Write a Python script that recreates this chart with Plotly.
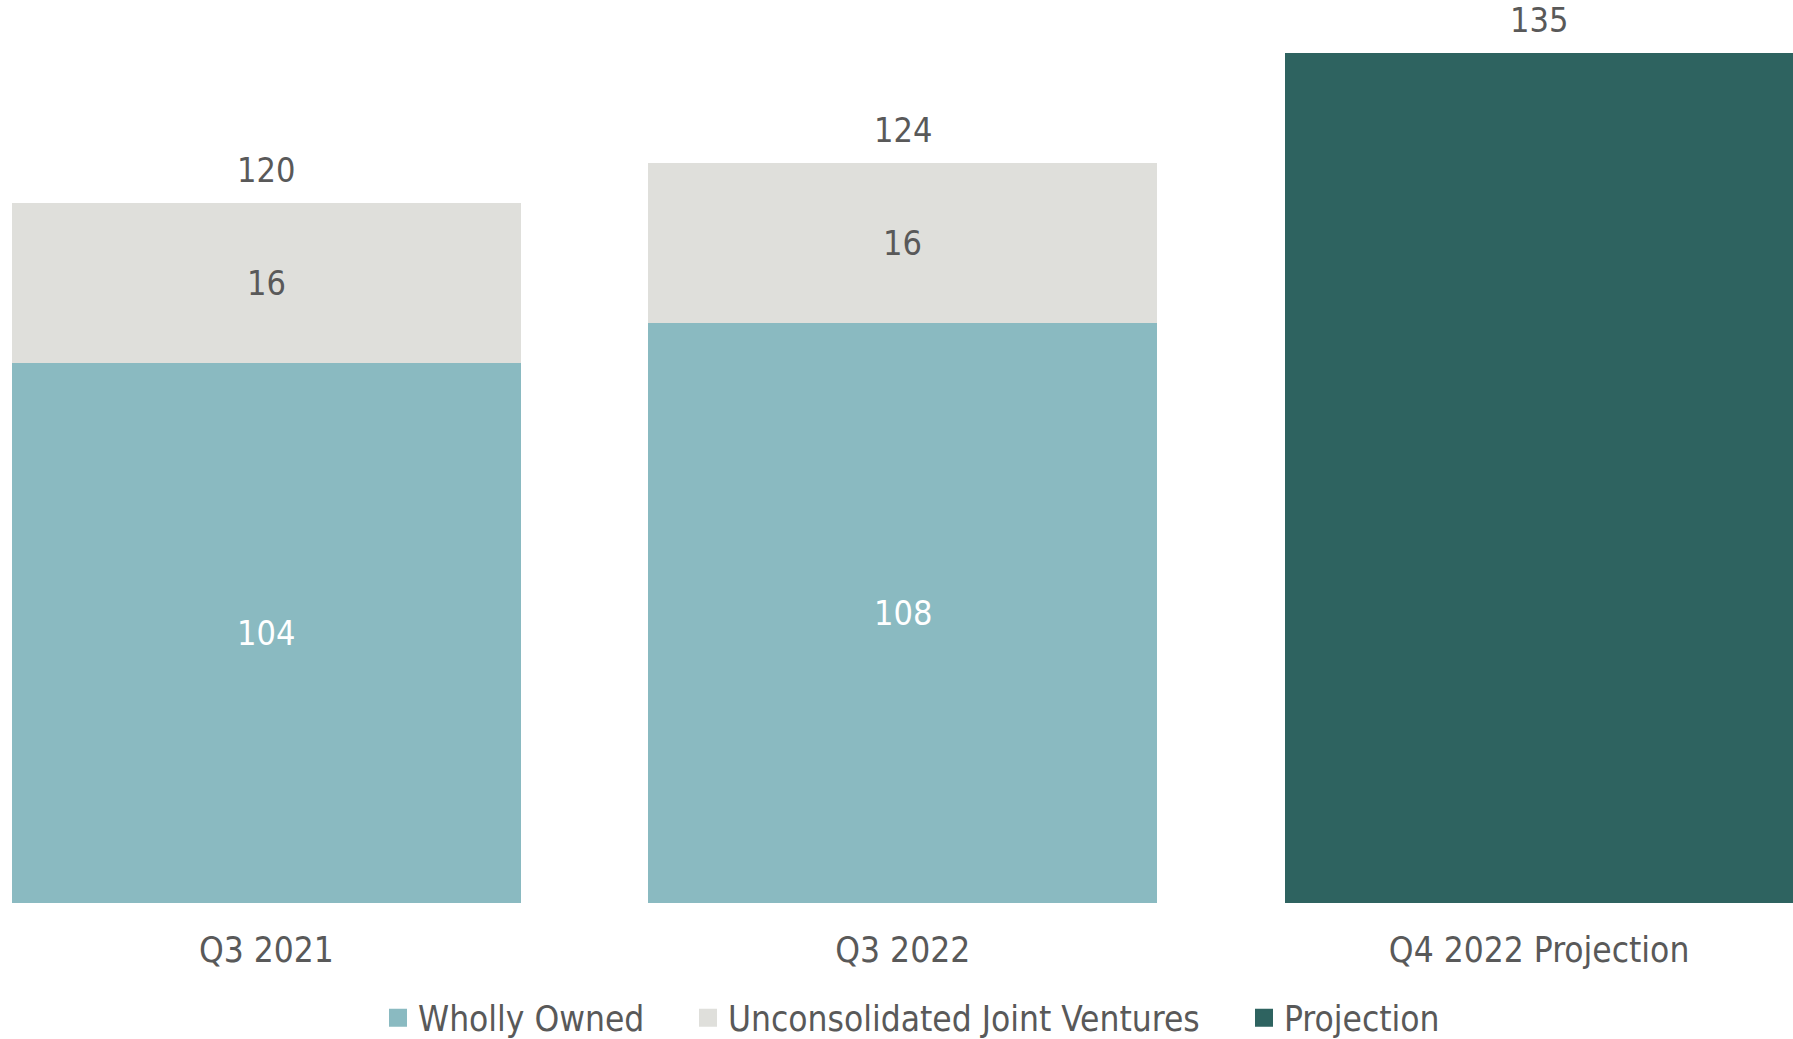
import plotly.graph_objects as go

# Portfolio counts by period
categories = ["Q3 2021", "Q3 2022", "Q4 2022 Projection"]
wholly_owned = [104, 108, None]
joint_ventures = [16, 16, None]
projection = [None, None, 135]
totals = [120, 124, 135]

series_names = ["Wholly Owned", "Unconsolidated Joint Ventures", "Projection"]

C_WHOLLY = "#8ABAC1"
C_JV = "#DFDFDB"
C_PROJ = "#2E6360"
C_TEXT = "#595959"
FONT = "DejaVu Sans Condensed, Tahoma, DejaVu Sans, sans-serif"
FS_NUM = 34
FS_TXT = 35

Y_FLOOR, Y_CEIL = 50, 140.35

fig = go.Figure()

fig.add_trace(go.Bar(
    name=series_names[0], x=categories, y=wholly_owned,
    marker=dict(color=C_WHOLLY, line=dict(width=0)), showlegend=False,
))
fig.add_trace(go.Bar(
    name=series_names[1], x=categories, y=joint_ventures,
    marker=dict(color=C_JV, line=dict(width=0)), showlegend=False,
))
fig.add_trace(go.Bar(
    name=series_names[2], x=categories, y=projection,
    marker=dict(color=C_PROJ, line=dict(width=0)), showlegend=False,
))

# Segment labels, centred on the visible part of each segment
for cat, wo, jv in zip(categories, wholly_owned, joint_ventures):
    if wo is not None:
        fig.add_annotation(x=cat, y=(max(0, Y_FLOOR) + wo) / 2, text=str(wo),
                           showarrow=False, yanchor="middle",
                           font=dict(color="white", size=FS_NUM, family=FONT))
    if jv is not None:
        fig.add_annotation(x=cat, y=wo + jv / 2, text=str(jv),
                           showarrow=False, yanchor="middle",
                           font=dict(color=C_TEXT, size=FS_NUM, family=FONT))

# Totals above each bar
for cat, tot in zip(categories, totals):
    fig.add_annotation(
        x=cat, y=tot, text=str(tot), showarrow=False,
        yanchor="bottom", yshift=11,
        font=dict(color=C_TEXT, size=FS_NUM, family=FONT),
    )

# Legend entries (square swatches), one legend box per entry
legend_keys = ["legend", "legend2", "legend3"]
legend_x = [378, 688, 1244]
colors = [C_WHOLLY, C_JV, C_PROJ]
for name, col, key in zip(series_names, colors, legend_keys):
    fig.add_trace(go.Scatter(
        x=[None], y=[None], mode="markers", name=name, legend=key,
        marker=dict(symbol="square", size=16, color=col,
                    line=dict(color=col, width=2)),
        showlegend=True,
    ))

legend_common = dict(
    orientation="h", yref="container", yanchor="middle", y=1 - 1018 / 1039,
    xanchor="left",
    font=dict(size=FS_TXT, color=C_TEXT, family=FONT),
    bgcolor="rgba(0,0,0,0)", borderwidth=0,
)

fig.update_layout(
    barmode="stack",
    bargap=0.2,
    width=1793, height=1039,
    margin=dict(l=0, r=0, t=0, b=136, pad=0, autoexpand=False),
    plot_bgcolor="white", paper_bgcolor="white",
    font=dict(family=FONT, size=FS_TXT, color=C_TEXT),
    legend=dict(x=legend_x[0] / 1793, **legend_common),
    legend2=dict(x=legend_x[1] / 1793, **legend_common),
    legend3=dict(x=legend_x[2] / 1793, **legend_common),
    showlegend=True,
)
fig.update_xaxes(
    type="category", range=[-0.4187, 2.399], automargin=False,
    showgrid=False, showline=False, zeroline=False, ticks="",
    ticklabelstandoff=23,
    tickfont=dict(size=FS_TXT, color=C_TEXT, family=FONT),
)
fig.update_yaxes(
    range=[Y_FLOOR, Y_CEIL], visible=False, showgrid=False, zeroline=False,
    automargin=False,
)

fig.write_html("out.html")
